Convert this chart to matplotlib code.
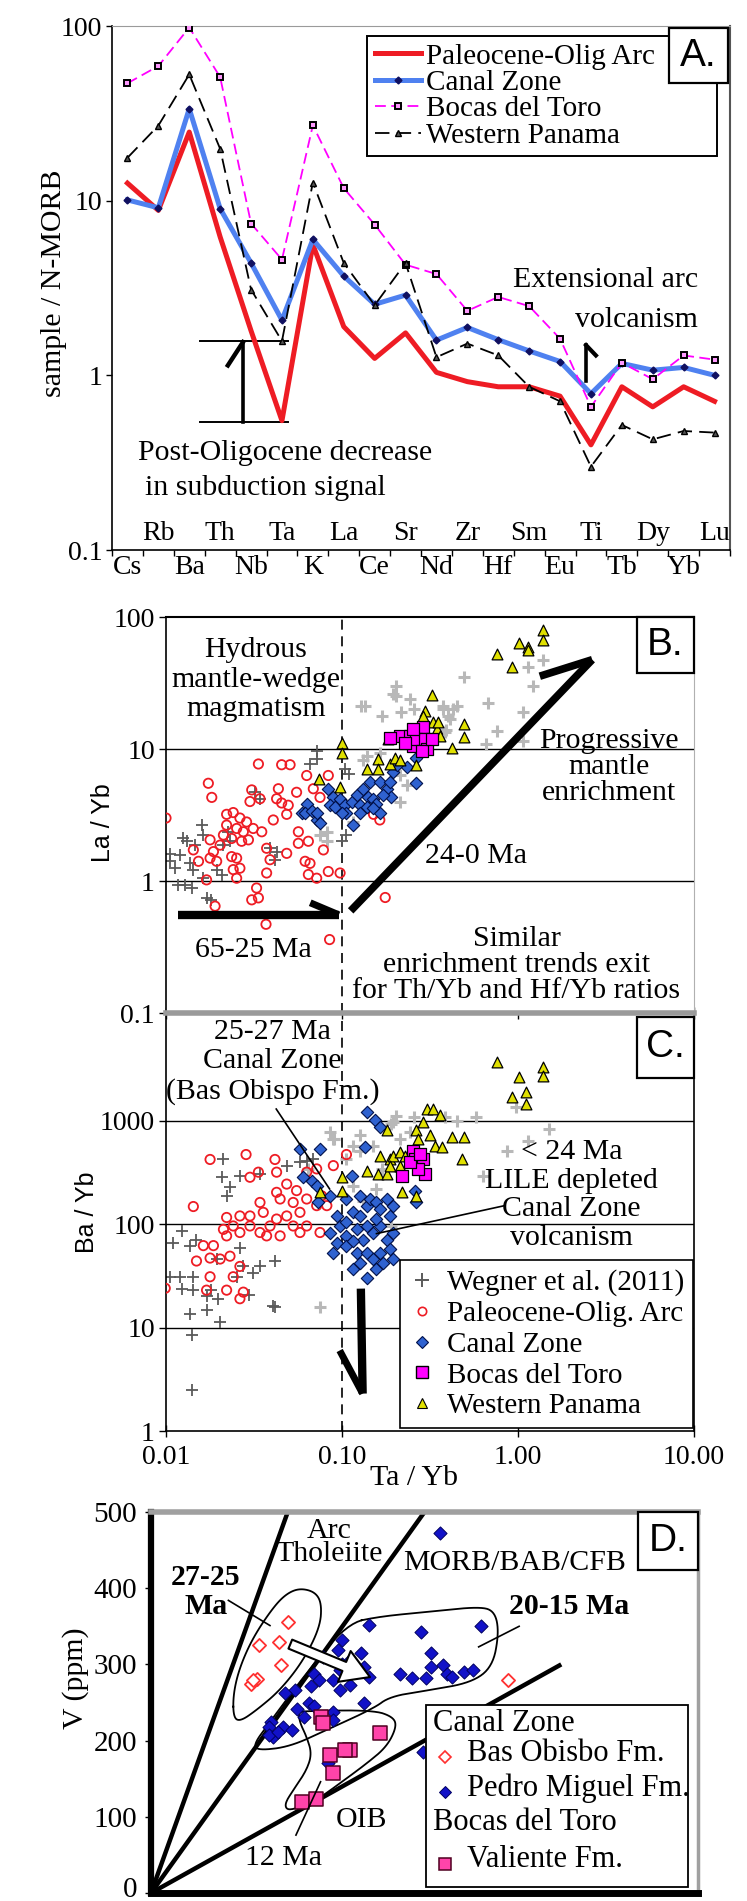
import matplotlib
matplotlib.use("Agg")
import matplotlib.pyplot as plt
import matplotlib.transforms as mtransforms
from matplotlib.lines import Line2D
from matplotlib.patches import Rectangle, FancyArrowPatch
import numpy as np

plt.rcParams['font.family'] = ['Liberation Serif', 'DejaVu Serif']
SANS = ['Liberation Sans', 'DejaVu Sans']

# ---------------- A: N-MORB normalised patterns ----------------
elements = ['Cs', 'Rb', 'Ba', 'Th', 'Nb', 'Ta', 'K', 'La', 'Ce', 'Sr',
            'Nd', 'Zr', 'Hf', 'Sm', 'Eu', 'Ti', 'Tb', 'Dy', 'Yb', 'Lu']
paleo_arc = [12.6, 8.8, 24.7, 6.2, 1.8, 0.55, 5.6, 1.9, 1.25, 1.75,
             1.04, 0.92, 0.86, 0.86, 0.76, 0.40, 0.86, 0.66, 0.86, 0.71]
canal_zone = [10.1, 9.1, 33.6, 9.0, 4.4, 2.07, 6.0, 3.7, 2.55, 2.88,
              1.59, 1.88, 1.60, 1.38, 1.20, 0.785, 1.17, 1.07, 1.11, 1.0]
bocas_toro = [47, 59, 98, 51, 7.4, 4.6, 27, 11.8, 7.3, 4.3,
              3.8, 2.34, 2.81, 2.49, 1.62, 0.66, 1.18, 0.95, 1.30, 1.23]
west_panama = [17.6, 26.9, 52.8, 19.8, 3.1, 1.57, 12.7, 4.4, 2.52, 4.4,
               1.27, 1.52, 1.30, 0.86, 0.71, 0.30, 0.52, 0.43, 0.48, 0.47]

# ---------------- B: La/Yb vs Ta/Yb ----------------
b_wegner_dark = [(0.0718, 9.7), (0.0718, 8.4), (0.0658, 7.7), (0.104, 7.1), (0.109, 6.5),
                 (0.032, 4.7), (0.0342, 4.2), (0.016, 2.65), (0.0163, 2.23), (0.0125, 2.1),
                 (0.0131, 2.0), (0.0146, 1.87), (0.0212, 1.87), (0.0231, 2.0), (0.012, 1.58),
                 (0.0105, 1.41), (0.0112, 1.25), (0.0137, 1.36), (0.0143, 1.22), (0.0194, 1.22),
                 (0.0207, 1.12), (0.039, 1.77), (0.0425, 1.67), (0.0415, 1.45), (0.0128, 0.94),
                 (0.014, 0.885), (0.017, 0.745), (0.0163, 1.05), (0.0995, 2.0), (0.106, 2.23),
                 (0.0225, 2.36), (0.0117, 0.93), (0.018, 0.72), (0.0105, 1.6)]
b_wegner_light = [(0.495, 35), (0.675, 22.5), (0.452, 21), (1.14, 42), (1.38, 47.5),
                  (1.22, 30), (1.07, 19), (0.655, 11), (1.07, 11.5), (0.135, 21),
                  (0.202, 30), (0.202, 25), (0.243, 23.8), (0.375, 21), (0.40, 17.7),
                  (0.386, 13.4), (0.764, 13.6), (0.258, 20), (0.168, 17.7), (0.215, 19),
                  (0.129, 21), (0.196, 26), (0.132, 8.2), (0.138, 8.9), (0.164, 9.4),
                  (0.196, 7.5), (0.214, 6.3), (0.126, 4.7), (0.106, 3.75), (0.082, 2.36),
                  (0.075, 2.23), (0.082, 2.0), (0.214, 4.0), (0.233, 5.3), (0.39, 14),
                  (0.43, 20), (0.41, 16.8), (0.377, 20), (0.116, 2.8)]
b_paleo = [(0.0335, 7.7), (0.0454, 7.6), (0.0507, 7.6), (0.0174, 5.5), (0.0182, 4.3),
           (0.010, 3.0), (0.0307, 4.9), (0.0342, 4.2), (0.0435, 5.0), (0.0425, 4.2),
           (0.030, 4.0), (0.0454, 3.9), (0.0495, 3.75), (0.0485, 3.2), (0.0407, 2.9),
           (0.0221, 3.2), (0.0241, 3.3), (0.0263, 3.0), (0.0287, 2.8), (0.0221, 2.65),
           (0.0252, 2.5), (0.0275, 2.36), (0.0313, 2.5), (0.0212, 2.23), (0.0236, 2.1),
           (0.0294, 2.05), (0.0269, 2.0), (0.0178, 2.05), (0.0186, 1.67), (0.0203, 1.87),
           (0.0143, 1.72), (0.0153, 1.41), (0.0178, 1.49), (0.0194, 1.41), (0.0236, 1.53),
           (0.0252, 1.49), (0.0263, 1.25), (0.0241, 1.22), (0.035, 2.36), (0.0373, 1.77),
           (0.039, 1.45), (0.0373, 1.15), (0.0485, 1.62), (0.0565, 2.36), (0.0565, 1.93),
           (0.0644, 2.0), (0.0784, 1.72), (0.0617, 1.41), (0.0658, 1.36), (0.0644, 1.12),
           (0.0718, 1.05), (0.0836, 1.18), (0.0975, 1.15), (0.0327, 0.885), (0.0335, 0.745),
           (0.0307, 0.72), (0.017, 1.02), (0.0252, 1.05), (0.019, 0.645), (0.037, 0.47),
           (0.176, 0.75), (0.085, 0.36), (0.063, 6.3), (0.0836, 6.3), (0.075, 4.3),
           (0.0687, 5.0), (0.0552, 4.7), (0.151, 3.2), (0.164, 2.9)]
b_canal = [(0.059, 3.25), (0.063, 3.86), (0.0617, 3.3), (0.0718, 2.9), (0.075, 2.73),
           (0.0673, 3.4), (0.0836, 5.0), (0.0893, 4.3), (0.0855, 3.75), (0.0975, 4.2),
           (0.0913, 3.66), (0.104, 3.75), (0.106, 3.3), (0.1135, 4.0), (0.121, 4.46),
           (0.126, 3.75), (0.132, 5.0), (0.141, 4.3), (0.151, 4.2), (0.157, 3.86),
           (0.164, 3.25), (0.144, 5.6), (0.164, 5.6), (0.18, 5.0), (0.191, 4.3),
           (0.187, 5.6), (0.196, 6.7), (0.233, 7.3), (0.265, 8.6), (0.265, 5.5),
           (0.116, 2.65), (0.0718, 3.3), (0.0995, 3.25), (0.126, 3.25), (0.138, 3.66),
           (0.172, 4.46), (0.205, 7.5), (0.151, 3.55)]
b_wpanama = [(0.0995, 11.2), (0.0995, 9.4), (0.0743, 5.9), (0.0975, 5.15), (0.138, 7.1),
             (0.161, 8.4), (0.161, 7.1), (0.187, 7.7), (0.2, 8.6), (0.214, 8.2),
             (0.183, 11.9), (0.265, 7.5), (0.42, 10.1), (0.296, 19.4), (0.29, 17.8),
             (0.323, 25.8), (0.33, 15.9), (0.345, 14.1), (0.36, 12.6), (0.352, 16),
             (0.495, 15.5), (0.495, 12.3), (0.764, 52), (0.92, 42), (1.01, 63),
             (1.14, 59), (1.14, 56), (1.38, 80), (1.38, 67)]
b_bocas = [(0.214, 12.6), (0.243, 12.6), (0.254, 10.6), (0.29, 14.6), (0.265, 11.9),
           (0.296, 11.9), (0.254, 14.1), (0.303, 10.0), (0.284, 9.7), (0.323, 11.9),
           (0.187, 12.2), (0.228, 11.2)]

# ---------------- C: Ba/Yb vs Ta/Yb ----------------
c_wegner_dark = [(0.0212, 428), (0.0207, 284), (0.0231, 227), (0.0221, 188), (0.0263, 294),
                 (0.0342, 306), (0.0485, 368), (0.0577, 397), (0.063, 412), (0.0687, 428),
                 (0.0123, 86), (0.011, 66), (0.0137, 62), (0.0149, 71), (0.012, 31),
                 (0.0143, 31), (0.0143, 23), (0.017, 20), (0.0198, 19), (0.0252, 31),
                 (0.0275, 39), (0.0313, 34), (0.0342, 39), (0.0416, 44), (0.0407, 16),
                 (0.0194, 46), (0.0263, 59), (0.0106, 30.8), (0.0124, 23.8), (0.018, 22.9),
                 (0.017, 14.7), (0.0204, 11.3), (0.0141, 8.4), (0.0416, 15.8), (0.0296, 20.5),
                 (0.0137, 13.6), (0.0141, 2.47)]
c_wegner_light = [(0.202, 1117), (0.258, 1077), (0.386, 1077), (0.452, 1000), (0.578, 1077),
                  (0.98, 1345), (1.51, 831), (1.14, 641), (0.865, 514), (0.19, 929),
                  (0.090, 665), (0.116, 574), (0.085, 771), (0.243, 771), (0.168, 342),
                  (0.157, 219), (0.131, 169), (0.19, 97), (0.635, 294), (0.127, 514),
                  (0.064, 342), (0.075, 15.8), (0.0893, 668), (0.126, 720), (0.196, 970),
                  (0.214, 668), (0.106, 428), (0.151, 575), (0.116, 235)]
c_paleo = [(0.0178, 422), (0.0285, 471), (0.0416, 422), (0.0143, 148), (0.0335, 318),
           (0.030, 284), (0.0425, 318), (0.0485, 244), (0.0552, 211), (0.063, 318),
           (0.0718, 342), (0.0893, 368), (0.106, 471), (0.063, 175), (0.0718, 151),
           (0.082, 151), (0.0766, 188), (0.0528, 162), (0.0577, 130), (0.0425, 203),
           (0.0445, 175), (0.0342, 162), (0.0357, 130), (0.030, 120), (0.0263, 120),
           (0.0221, 116), (0.0241, 96), (0.0263, 83), (0.030, 96), (0.0342, 83),
           (0.039, 96), (0.0425, 112), (0.0485, 120), (0.0528, 96), (0.0577, 83),
           (0.063, 96), (0.0212, 89), (0.0221, 77), (0.0186, 62), (0.0163, 62),
           (0.0178, 47), (0.0203, 46), (0.0231, 49), (0.0263, 39), (0.0241, 31),
           (0.0178, 31), (0.0149, 44), (0.017, 23), (0.0221, 23), (0.0263, 19),
           (0.0275, 22), (0.0099, 24), (0.075, 83), (0.0445, 77), (0.0373, 77)]
c_canal = [(0.0577, 527), (0.075, 527), (0.135, 555), (0.0603, 284), (0.0673, 264),
           (0.0718, 236), (0.0734, 162), (0.0855, 188), (0.1135, 294), (0.138, 1214),
           (0.154, 1007), (0.164, 868), (0.26, 211), (0.265, 162), (0.0933, 120),
           (0.0855, 83), (0.0975, 96), (0.106, 104), (0.116, 130), (0.126, 120),
           (0.138, 151), (0.144, 175), (0.157, 162), (0.164, 140), (0.18, 175),
           (0.187, 120), (0.196, 151), (0.106, 77), (0.121, 89), (0.132, 71),
           (0.151, 83), (0.164, 96), (0.18, 71), (0.0933, 66), (0.106, 62),
           (0.121, 53), (0.138, 53), (0.151, 46), (0.164, 53), (0.187, 57),
           (0.196, 46), (0.116, 37), (0.138, 30), (0.157, 37), (0.0893, 53),
           (0.126, 188), (0.157, 112), (0.196, 83), (0.138, 96), (0.116, 69),
           (0.172, 42), (0.126, 42), (0.106, 175)]
c_wpanama = [(0.18, 805), (0.0995, 284), (0.0995, 211), (0.075, 203), (0.138, 330),
             (0.161, 306), (0.18, 306), (0.187, 428), (0.196, 460), (0.214, 496),
             (0.187, 368), (0.164, 460), (0.214, 368), (0.218, 203), (0.265, 805),
             (0.272, 668), (0.316, 720), (0.29, 970), (0.303, 1308), (0.33, 1308),
             (0.36, 1127), (0.42, 693), (0.337, 575), (0.368, 555), (0.265, 188),
             (0.228, 460), (0.495, 690), (0.48, 427), (0.92, 1680), (1.11, 1876),
             (1.11, 1448), (0.764, 3700), (1.01, 2660), (1.38, 3310), (1.38, 2720)]
c_bocas = [(0.218, 294), (0.254, 515), (0.26, 428), (0.29, 428), (0.296, 306),
           (0.272, 342), (0.243, 397), (0.277, 479)]

# ---------------- D: Ti/1000 vs V ----------------
d_bas_obisbo = [(5.00, 355), (3.96, 326), (4.69, 329), (4.74, 299), (3.89, 281),
                (3.65, 274), (3.74, 279), (13.07, 280)]
d_pedro_miguel = [(10.57, 473), (7.96, 352), (9.87, 343), (12.05, 350), (10.22, 315),
                  (10.22, 297), (10.66, 299), (10.83, 288), (11.01, 284), (9.09, 288),
                  (9.53, 282), (10.05, 282), (11.45, 290), (11.79, 293), (7.69, 315),
                  (7.78, 297), (7.96, 284), (7.0, 332), (6.82, 319), (7.26, 306),
                  (6.91, 293), (6.65, 280), (6.91, 266), (7.26, 273), (5.95, 288),
                  (6.13, 280), (5.86, 271), (5.25, 266), (5.78, 249), (5.95, 245),
                  (5.34, 242), (5.60, 231), (6.65, 238), (6.65, 227), (7.78, 249),
                  (4.38, 225), (4.30, 218), (4.82, 218), (5.17, 214), (4.47, 205),
                  (9.96, 185), (6.47, 170), (4.30, 207), (4.65, 211), (4.9, 262),
                  (6.3, 310), (7.0, 301)]
d_valiente = [(6.21, 231), (6.30, 223), (8.39, 210), (7.26, 188), (7.1, 188),
              (6.56, 181), (6.65, 157), (5.53, 120), (6.04, 124)]
ti_v_ratio = [10, 20, 50]
ti_line_end = [5, 10, 15]
field_27_25 = [(3.01, 231), (3.01, 262), (3.25, 297), (3.74, 336), (4.47, 375), (4.96, 393),
               (5.45, 400), (6.0, 395), (6.24, 380), (6.18, 349), (5.57, 305), (4.72, 266),
               (3.86, 240), (3.25, 225)]
field_20_15 = [(7.17, 354), (8.39, 363), (10.14, 369), (12.05, 376), (12.58, 369),
               (12.72, 341), (12.49, 297), (11.71, 276), (10.14, 266), (8.74, 258),
               (8.13, 242), (6.42, 214), (5.08, 192), (3.92, 187), (3.75, 195),
               (4.3, 222), (5.6, 285)]
field_12 = [(5.57, 239), (8.13, 240), (8.86, 231), (8.98, 218), (8.62, 192), (7.89, 170),
            (6.91, 144), (6.06, 122), (5.33, 111), (4.96, 109), (4.90, 118), (5.20, 135),
            (5.69, 161), (5.88, 183), (5.69, 205), (5.45, 223), (5.39, 236)]

RED = '#ee1c24'
BLUE_LINE = '#4f81f0'
BLUE_D = '#2f62d0'
EDGE_D = '#00104a'
MAG = '#ff00ff'
YEL = '#e0e000'
GRAY_DARK = '#5a5a5a'
GRAY_LIGHT = '#b8b8b8'
FS = 21.5
TFS = 20

W, H = 747, 1901


def rect(l, t, r, b):
    return [l / W, 1 - b / H, (r - l) / W, (b - t) / H]


def xy(pairs):
    a = np.array(pairs, dtype=float)
    return a[:, 0], a[:, 1]


def chaikin(pts, n=3):
    p = np.array(pts, dtype=float)
    for _ in range(n):
        q = 0.75 * p + 0.25 * np.roll(p, -1, axis=0)
        r = 0.25 * p + 0.75 * np.roll(p, -1, axis=0)
        p = np.empty((2 * len(q), 2))
        p[0::2] = q
        p[1::2] = r
    return np.vstack([p, p[:1]])


def panel_box(ax, x0, y0, x1, y1, letter):
    ax.add_patch(Rectangle((x0, y0), x1 - x0, y1 - y0, transform=ax.transAxes,
                           fc='white', ec='black', lw=1.6, zorder=20, clip_on=False))
    ax.text((x0 + x1) / 2, (y0 + y1) / 2, letter, transform=ax.transAxes, ha='center',
            va='center', fontsize=28, family=SANS, zorder=21)


fig = plt.figure(figsize=(W / 100, H / 100), dpi=100)

# ======================= A =======================
axA = fig.add_axes(rect(112, 26, 730, 550))
pos = np.arange(1, len(elements) + 1)
axA.plot(pos, paleo_arc, color=RED, lw=3.6, label='Paleocene-Olig Arc', zorder=3)
axA.plot(pos, canal_zone, color=BLUE_LINE, lw=3.6, marker='D', ms=3.5, mfc='#101060',
         mec='#101060', label='Canal Zone', zorder=3)
axA.plot(pos, bocas_toro, color=MAG, lw=1.3, ls=(0, (6, 3)), marker='s', ms=5,
         mfc='#ff99ff', mec='black', mew=1.4, label='Bocas del Toro', zorder=4)
axA.plot(pos, west_panama, color='black', lw=1.3, ls=(0, (8, 4)), marker='^', ms=4.5,
         mfc='#555555', mec='black', label='Western Panama', zorder=4)
axA.set_yscale('log')
axA.set_ylim(0.1, 100)
axA.set_xlim(0.5, 20.5)
axA.set_yticks([0.1, 1, 10, 100])
axA.set_yticklabels(['0.1', '1', '10', '100'])
axA.minorticks_off()
axA.set_xticks(np.arange(0.5, 20.6, 1))
axA.set_xticklabels([])
axA.tick_params(axis='both', labelsize=TFS, length=4, width=1, pad=3)
trA = mtransforms.blended_transform_factory(axA.transData, axA.transAxes)
for i, el in enumerate(elements):
    yy = -0.034 if i % 2 == 0 else 0.032
    axA.text(pos[i], yy, el, transform=trA, ha='center', va='center', fontsize=TFS)
for s in ['left', 'bottom']:
    axA.spines[s].set_linewidth(1.2)
axA.spines['top'].set_color('#9a9a9a')
axA.spines['right'].set_color('#555555')
axA.spines['right'].set_linewidth(1.5)
fig.text(54 / W, 1 - 283 / H, 'sample / N-MORB', rotation=90, ha='center', va='center',
         fontsize=FS)
legA = axA.legend(loc='upper left', bbox_to_anchor=(0.413, 0.769, 0.566, 0.212),
                  mode='expand', borderaxespad=0, fontsize=21, frameon=True,
                  fancybox=False, edgecolor='black', framealpha=1, handlelength=1.6,
                  handletextpad=0.15, borderpad=0.25, labelspacing=0.0)
legA.get_frame().set_linewidth(1.4)
panel_box(axA, 0.901, 0.891, 0.997, 0.996, 'A.')
# subduction bracket and arrow
axA.plot([3.35, 6.2], [1.57, 1.57], color='black', lw=1.4)
axA.plot([3.35, 6.2], [0.537, 0.537], color='black', lw=1.4)
axA.plot([4.74, 4.74], [0.537, 1.55], color='black', lw=2.6)
axA.plot([4.74, 4.25], [1.55, 1.14], color='black', lw=3.2)
axA.text(1.34, 0.36, 'Post-Oligocene decrease', fontsize=FS, ha='left', va='center')
axA.text(1.57, 0.226, 'in subduction signal', fontsize=FS, ha='left', va='center')
axA.plot([15.84, 15.84], [0.93, 1.49], color='black', lw=2.6)
axA.plot([15.84, 16.16], [1.49, 1.30], color='black', lw=3.0)
axA.text(19.46, 3.5, 'Extensional arc', fontsize=FS, ha='right', va='center')
axA.text(19.46, 2.07, 'volcanism', fontsize=FS, ha='right', va='center')

# ======================= B and C =======================
axC = fig.add_axes(rect(166, 1013, 694, 1431))
axB = fig.add_axes(rect(166, 617, 694, 1013))
axB.set_zorder(3)


def scatter_set(ax, wd, wl, pa, cz, wp, bt):
    ax.scatter(*xy(wl), marker='+', s=85, c=GRAY_LIGHT, linewidths=2.2, zorder=2)
    ax.scatter(*xy(wd), marker='+', s=75, c=GRAY_DARK, linewidths=1.3, zorder=2)
    ax.scatter(*xy(pa), marker='o', s=45, facecolors='none', edgecolors=RED,
               linewidths=1.3, zorder=3)
    ax.scatter(*xy(cz), marker='D', s=40, c=BLUE_D, edgecolors=EDGE_D,
               linewidths=0.8, zorder=4)
    ax.scatter(*xy(wp), marker='^', s=60, c=YEL, edgecolors='black',
               linewidths=0.9, zorder=5)
    ax.scatter(*xy(bt), marker='s', s=80, c=MAG, edgecolors='black',
               linewidths=0.9, zorder=6)


for ax in (axB, axC):
    ax.set_xscale('log')
    ax.set_yscale('log')
    ax.set_xlim(0.01, 10)
    ax.axvline(0.1, color='black', lw=1.2, ls=(0, (6, 4)), zorder=1)
    ax.minorticks_off()
    ax.tick_params(axis='both', labelsize=TFS, length=5, width=1, pad=3)

# ---- B
scatter_set(axB, b_wegner_dark, b_wegner_light, b_paleo, b_canal, b_wpanama, b_bocas)
axB.set_ylim(0.1, 100)
for v in (1, 10):
    axB.axhline(v, color='black', lw=1.0, zorder=1)
axB.set_yticks([0.1, 1, 10, 100])
axB.set_yticklabels(['0.1', '1', '10', '100'])
axB.set_xticks([0.01, 0.1, 1, 10])
axB.tick_params(axis='x', labelbottom=False, length=0)
axB.spines['top'].set_linewidth(1.5)
axB.spines['left'].set_linewidth(1.2)
axB.spines['right'].set_color('#b0b0b0')
axB.spines['bottom'].set_color('#9a9a9a')
axB.spines['bottom'].set_linewidth(4)
fig.text(103 / W, 1 - 823 / H, 'La / Yb', rotation=90, ha='center', va='center',
         fontsize=18, family=SANS)
panel_box(axB, 0.892, 0.859, 1.0, 1.0, 'B.')
axB.text(0.0324, 33.6, 'Hydrous\nmantle-wedge\nmagmatism', fontsize=FS, ha='center',
         va='center', linespacing=1.17, zorder=8)
axB.text(3.27, 7.3, 'Progressive\nmantle\nenrichment', fontsize=FS, ha='center',
         va='center', linespacing=1.02, zorder=8)
axB.text(0.578, 1.54, '24-0 Ma', fontsize=FS, ha='center', va='center', zorder=8)
axB.text(0.0315, 0.30, '65-25 Ma', fontsize=FS, ha='center', va='center', zorder=8)
axB.text(0.98, 0.233, 'Similar\nenrichment trends exit\nfor Th/Yb and Hf/Yb ratios',
         fontsize=FS, ha='center', va='center', linespacing=1.0, zorder=8)
axB.plot([0.112, 2.64], [0.594, 47.5], color='black', lw=5.5, solid_capstyle='butt', zorder=9)
axB.plot([2.64, 1.33], [47.5, 35.6], color='black', lw=5.5, solid_capstyle='butt', zorder=9)
axB.plot([0.0117, 0.096], [0.554, 0.554], color='black', lw=6, solid_capstyle='butt', zorder=9)
axB.plot([0.096, 0.066], [0.554, 0.684], color='black', lw=5, solid_capstyle='butt', zorder=9)

# ---- C
scatter_set(axC, c_wegner_dark, c_wegner_light, c_paleo, c_canal, c_wpanama, c_bocas)
axC.set_ylim(1, 11000)
for v in (10, 100, 1000):
    axC.axhline(v, color='black', lw=1.0, zorder=1)
axC.set_yticks([1, 10, 100, 1000])
axC.set_yticklabels(['1', '10', '100', '1000'])
axC.set_xticks([0.01, 0.1, 1, 10])
axC.set_xticklabels(['0.01', '0.10', '1.00', '10.00'])
axC.tick_params(axis='x', direction='inout', length=8, pad=6, top=True)
axC.spines['top'].set_visible(False)
for s in ['left', 'bottom', 'right']:
    axC.spines[s].set_linewidth(1.2)
axC.text(0.47, -0.112, 'Ta / Yb', transform=axC.transAxes, ha='center', va='center',
         fontsize=FS)
fig.text(87 / W, 1 - 1212 / H, 'Ba / Yb', rotation=90, ha='center', va='center',
         fontsize=18, family=SANS)
panel_box(axC, 0.892, 0.845, 1.0, 0.99, 'C.')
axC.text(0.0403, 3700, '25-27 Ma\nCanal Zone\n(Bas Obispo Fm.)', fontsize=FS,
         ha='center', va='center', linespacing=1.18, zorder=8)
axC.plot([0.0423, 0.085], [1297, 219], color='black', lw=1.2, zorder=8)
axC.text(2.02, 191, '< 24 Ma\nLILE depleted\nCanal Zone\nvolcanism', fontsize=FS,
         ha='center', va='center', linespacing=1.13, zorder=8)
axC.plot([0.84, 0.157], [151, 81], color='black', lw=1.2, zorder=8)
axC.plot([0.128, 0.131], [23.8, 2.3], color='black', lw=6, solid_capstyle='butt', zorder=8)
axC.plot([0.131, 0.097], [2.3, 6.0], color='black', lw=5, solid_capstyle='butt', zorder=8)
handles = [Line2D([], [], ls='none', marker='+', ms=10, mew=1.4, color=GRAY_DARK),
           Line2D([], [], ls='none', marker='o', ms=6, mfc='none', mec=RED, mew=1.2),
           Line2D([], [], ls='none', marker='D', ms=6, mfc=BLUE_D, mec=EDGE_D, mew=0.8),
           Line2D([], [], ls='none', marker='s', ms=8, mfc=MAG, mec='black', mew=1),
           Line2D([], [], ls='none', marker='^', ms=7, mfc=YEL, mec='black', mew=0.8)]
labels = ['Wegner et al. (2011)', 'Paleocene-Olig. Arc', 'Canal Zone',
          'Bocas del Toro', 'Western Panama']
legC = axC.legend(handles, labels, loc='lower right', bbox_to_anchor=(0.998, 0.007),
                  borderaxespad=0, fontsize=21, frameon=True, fancybox=False,
                  edgecolor='black', framealpha=1, handlelength=0.9, handletextpad=0.4,
                  borderpad=0.3, labelspacing=0.15)
legC.get_frame().set_linewidth(1.2)
legC.set_zorder(20)

# ======================= D =======================
axD = fig.add_axes(rect(151, 1512, 698, 1893))
axD.set_xlim(0, 20)
axD.set_ylim(0, 500)
for r, te in zip(ti_v_ratio, ti_line_end):
    axD.plot([0, te], [0, te * 1000 / r], color='black', lw=3.2, solid_capstyle='butt',
             zorder=2)
for f in (field_27_25, field_20_15, field_12):
    fx, fy = chaikin(f).T
    axD.plot(fx, fy, color='black', lw=1.3, zorder=3)
axD.scatter(*xy(d_pedro_miguel), marker='D', s=45, c='#1212c8', edgecolors='#000060',
            linewidths=0.7, zorder=4)
axD.scatter(*xy(d_bas_obisbo), marker='D', s=45, facecolors='white', edgecolors='#ff3030',
            linewidths=1.3, zorder=4)
axD.scatter(*xy(d_valiente), marker='s', s=95, c='#ff44aa', edgecolors='#500020',
            linewidths=1.1, zorder=5)
axD.add_patch(FancyArrowPatch((5.0, 328), (8.1, 282),
                              arrowstyle='simple,head_length=20,head_width=24,tail_width=7',
                              mutation_scale=1, fc='white', ec='black', lw=1.5, zorder=6))
axD.text(6.52, 460, 'Arc\nTholeiite', fontsize=FS, ha='center', va='center',
         linespacing=0.88, zorder=7)
axD.text(13.29, 433, 'MORB/BAB/CFB', fontsize=FS, ha='center', va='center', zorder=7)
axD.text(2.0, 395, '27-25\nMa', fontsize=FS, ha='center', va='center', fontweight='bold',
         linespacing=1.12, zorder=7)
axD.plot([2.83, 4.35], [384, 351], color='black', lw=1.2, zorder=7)
axD.text(15.29, 376, '20-15 Ma', fontsize=FS, ha='center', va='center', fontweight='bold',
         zorder=7)
axD.plot([13.46, 11.98], [350, 323], color='black', lw=1.2, zorder=7)
axD.text(7.71, 96, 'OIB', fontsize=FS, ha='center', va='center', zorder=7)
axD.text(4.83, 46, '12 Ma', fontsize=FS, ha='center', va='center', zorder=7)
axD.plot([5.3, 6.2], [76, 146], color='black', lw=1.2, zorder=7)
axD.set_xticks([])
axD.set_yticks([0, 100, 200, 300, 400, 500])
axD.tick_params(axis='y', labelsize=21, length=4, width=1, pad=6)
# lift the "0" label a little so it stays inside the picture
zero_lab = axD.get_yticklabels()[0]
zero_lab.set_transform(zero_lab.get_transform() +
                       mtransforms.ScaledTranslation(0, 6 / 100, fig.dpi_scale_trans))
axD.spines['left'].set_linewidth(4.5)
axD.spines['bottom'].set_linewidth(5)
axD.spines['top'].set_color('#a0a0a0')
axD.spines['top'].set_linewidth(4)
axD.spines['right'].set_color('#a0a0a0')
axD.spines['right'].set_linewidth(2.5)
fig.text(76 / W, 1 - 1678 / H, 'V (ppm)', rotation=90, ha='center', va='center',
         fontsize=FS)
panel_box(axD, 0.89, 0.848, 1.0, 1.0, 'D.')
# legend drawn by hand so the group headers sit flush left
axD.add_patch(Rectangle((0.503, 0.016), 0.479, 0.477, transform=axD.transAxes,
                        fc='white', ec='black', lw=1.3, zorder=10))
rows = [('Canal Zone', None, 0.446), ('Bas Obisbo Fm.', 'bo', 0.367),
        ('Pedro Miguel Fm.', 'pm', 0.276), ('Bocas del Toro', None, 0.184),
        ('Valiente Fm.', 'va', 0.087)]
styles = {'bo': dict(marker='D', ms=6, mfc='white', mec='#ff3030', mew=1.2),
          'pm': dict(marker='D', ms=6, mfc='#1212c8', mec='#000060', mew=0.7),
          'va': dict(marker='s', ms=8, mfc='#ff44aa', mec='#500020', mew=1.1)}
for label, key, yy in rows:
    if key is None:
        axD.text(0.516, yy, label, transform=axD.transAxes, fontsize=22, ha='left',
                 va='center', zorder=11)
    else:
        axD.plot([0.538], [yy - 0.01], transform=axD.transAxes, ls='none', zorder=11,
                 clip_on=False, **styles[key])
        axD.text(0.578, yy, label, transform=axD.transAxes, fontsize=22, ha='left',
                 va='center', zorder=11)

fig.savefig('out.png', dpi=100)
